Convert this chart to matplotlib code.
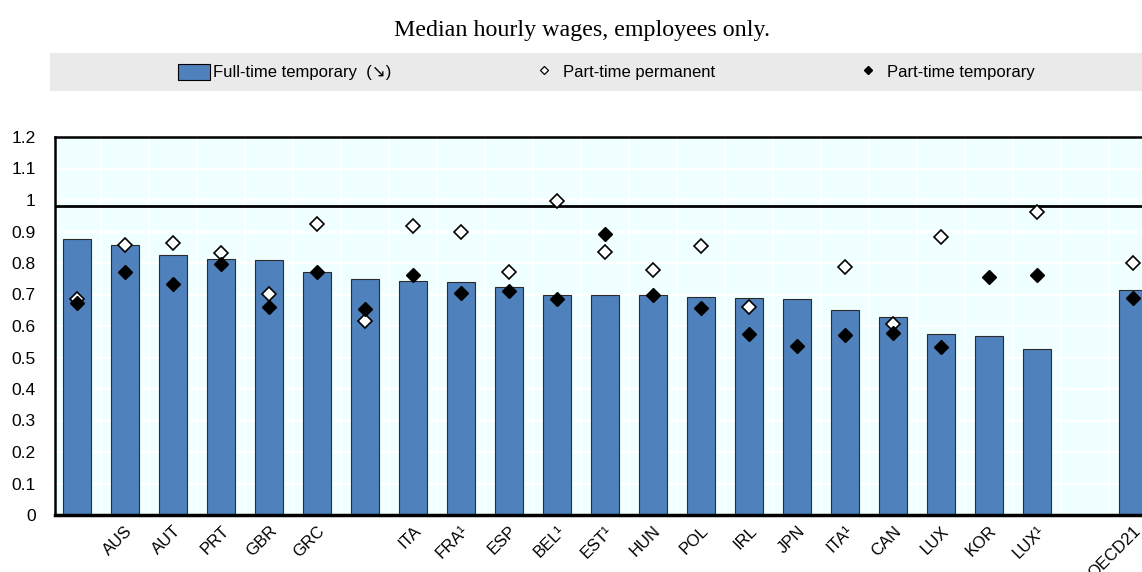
import numpy as np
import matplotlib
matplotlib.use("Agg")
import matplotlib.pyplot as plt
from matplotlib.lines import Line2D
from matplotlib.patches import Patch, Rectangle
from matplotlib.ticker import FuncFormatter

plt.rcParams['font.family'] = ['Liberation Sans', 'DejaVu Sans']

nan = np.nan

# Categorias (espacio vacio antes de OECD21)
paises = ['', 'AUS', 'AUT', 'PRT', 'GBR', 'GRC', '', 'ITA', 'FRA¹', 'ESP',
          'BEL¹', 'EST¹', 'HUN', 'POL', 'IRL', 'JPN', 'ITA¹', 'CAN', 'LUX',
          'KOR', 'LUX¹', '', 'OECD21']

tiempo_completo_temporal = [0.876, 0.857, 0.824, 0.812, 0.808, 0.771, 0.750,
                            0.742, 0.739, 0.723, 0.699, 0.698, 0.697, 0.691,
                            0.688, 0.685, 0.650, 0.628, 0.576, 0.567, 0.527,
                            nan, 0.715]
parcial_permanente = [0.685, 0.857, 0.865, 0.833, 0.702, 0.925, 0.617, 0.917,
                      0.898, 0.773, 0.996, 0.835, 0.777, 0.855, 0.661, nan,
                      0.787, 0.605, 0.881, nan, 0.961, nan, 0.799]
parcial_temporal = [0.674, 0.771, 0.733, 0.797, 0.661, 0.771, 0.653, 0.763,
                    0.706, 0.712, 0.687, 0.891, 0.697, 0.658, 0.575, 0.538,
                    0.571, 0.579, 0.532, 0.754, 0.761, nan, 0.689]

linea_ref = 0.98

AZUL = '#4F81BD'
FONDO = '#F0FFFF'

fig = plt.figure(figsize=(11.42, 5.72), dpi=100)
ax = fig.add_axes([55 / 1142, 57 / 572, 1 - 55 / 1142, 378 / 572])
ax.set_facecolor(FONDO)

x = np.arange(len(paises))

# Rejilla blanca
ax.set_axisbelow(True)
ax.set_xticks(x[:-1] + 0.5, minor=True)
ax.grid(True, axis='y', color='white', lw=1.5)
ax.grid(True, axis='x', which='minor', color='white', lw=1.5)

ax.bar(x, tiempo_completo_temporal, width=0.58, color=AZUL,
       edgecolor='#2b2b2b', linewidth=0.8, zorder=2)
ax.axhline(linea_ref, color='black', lw=2, zorder=3)
ax.plot(x, parcial_permanente, 'D', ms=7, mfc='white', mec='black',
        mew=1.2, ls='none', zorder=4)
ax.plot(x, parcial_temporal, 'D', ms=7.2, mfc='black', mec='black',
        mew=1.0, ls='none', zorder=5)

ax.set_ylim(0, 1.2)
ax.set_xlim((55 - 77) / 48, (1142 - 77) / 48)
ax.set_yticks(np.arange(0, 1.21, 0.1))
ax.yaxis.set_major_formatter(FuncFormatter(lambda v, p: f"{v:g}"))
ax.set_xticks(x)
ax.set_xticklabels(paises, rotation=45, ha='right', rotation_mode='anchor')
ax.tick_params(axis='x', which='both', length=0, pad=6, labelsize=12)
ax.tick_params(axis='y', length=0, pad=14, labelsize=12.5)

for lado in ['left', 'top', 'bottom']:
    ax.spines[lado].set_color('black')
    ax.spines[lado].set_linewidth(1.8)
ax.spines['bottom'].set_linewidth(2.5)
ax.spines['right'].set_visible(False)

# Titulo
fig.text(0.51, 0.947, 'Median hourly wages, employees only.',
         family='Liberation Serif', fontsize=17.3, ha='center', va='center')

# Banda de la leyenda
fig.patches.append(Rectangle((50 / 1142, 1 - 91 / 572), 1 - 50 / 1142,
                             38 / 572, transform=fig.transFigure,
                             facecolor='#EAEAEA', edgecolor='none',
                             zorder=0))

manejadores = [
    Patch(facecolor=AZUL, edgecolor='black', linewidth=0.8),
    Line2D([], [], marker='D', ms=4.5, mfc='white', mec='black', mew=0.9,
           ls='none'),
    Line2D([], [], marker='D', ms=4.5, mfc='black', mec='black', ls='none'),
]
etiquetas = ['Full-time temporary  (↘)', 'Part-time permanent',
             'Part-time temporary']
fig.legend(manejadores, etiquetas, loc='center', ncol=3,
           bbox_to_anchor=(0.531, 1 - 72 / 572), frameon=False, fontsize=12,
           handlelength=1.9, handleheight=1.1, handletextpad=0.2,
           columnspacing=8.2)

fig.savefig('out.png', dpi=100)
